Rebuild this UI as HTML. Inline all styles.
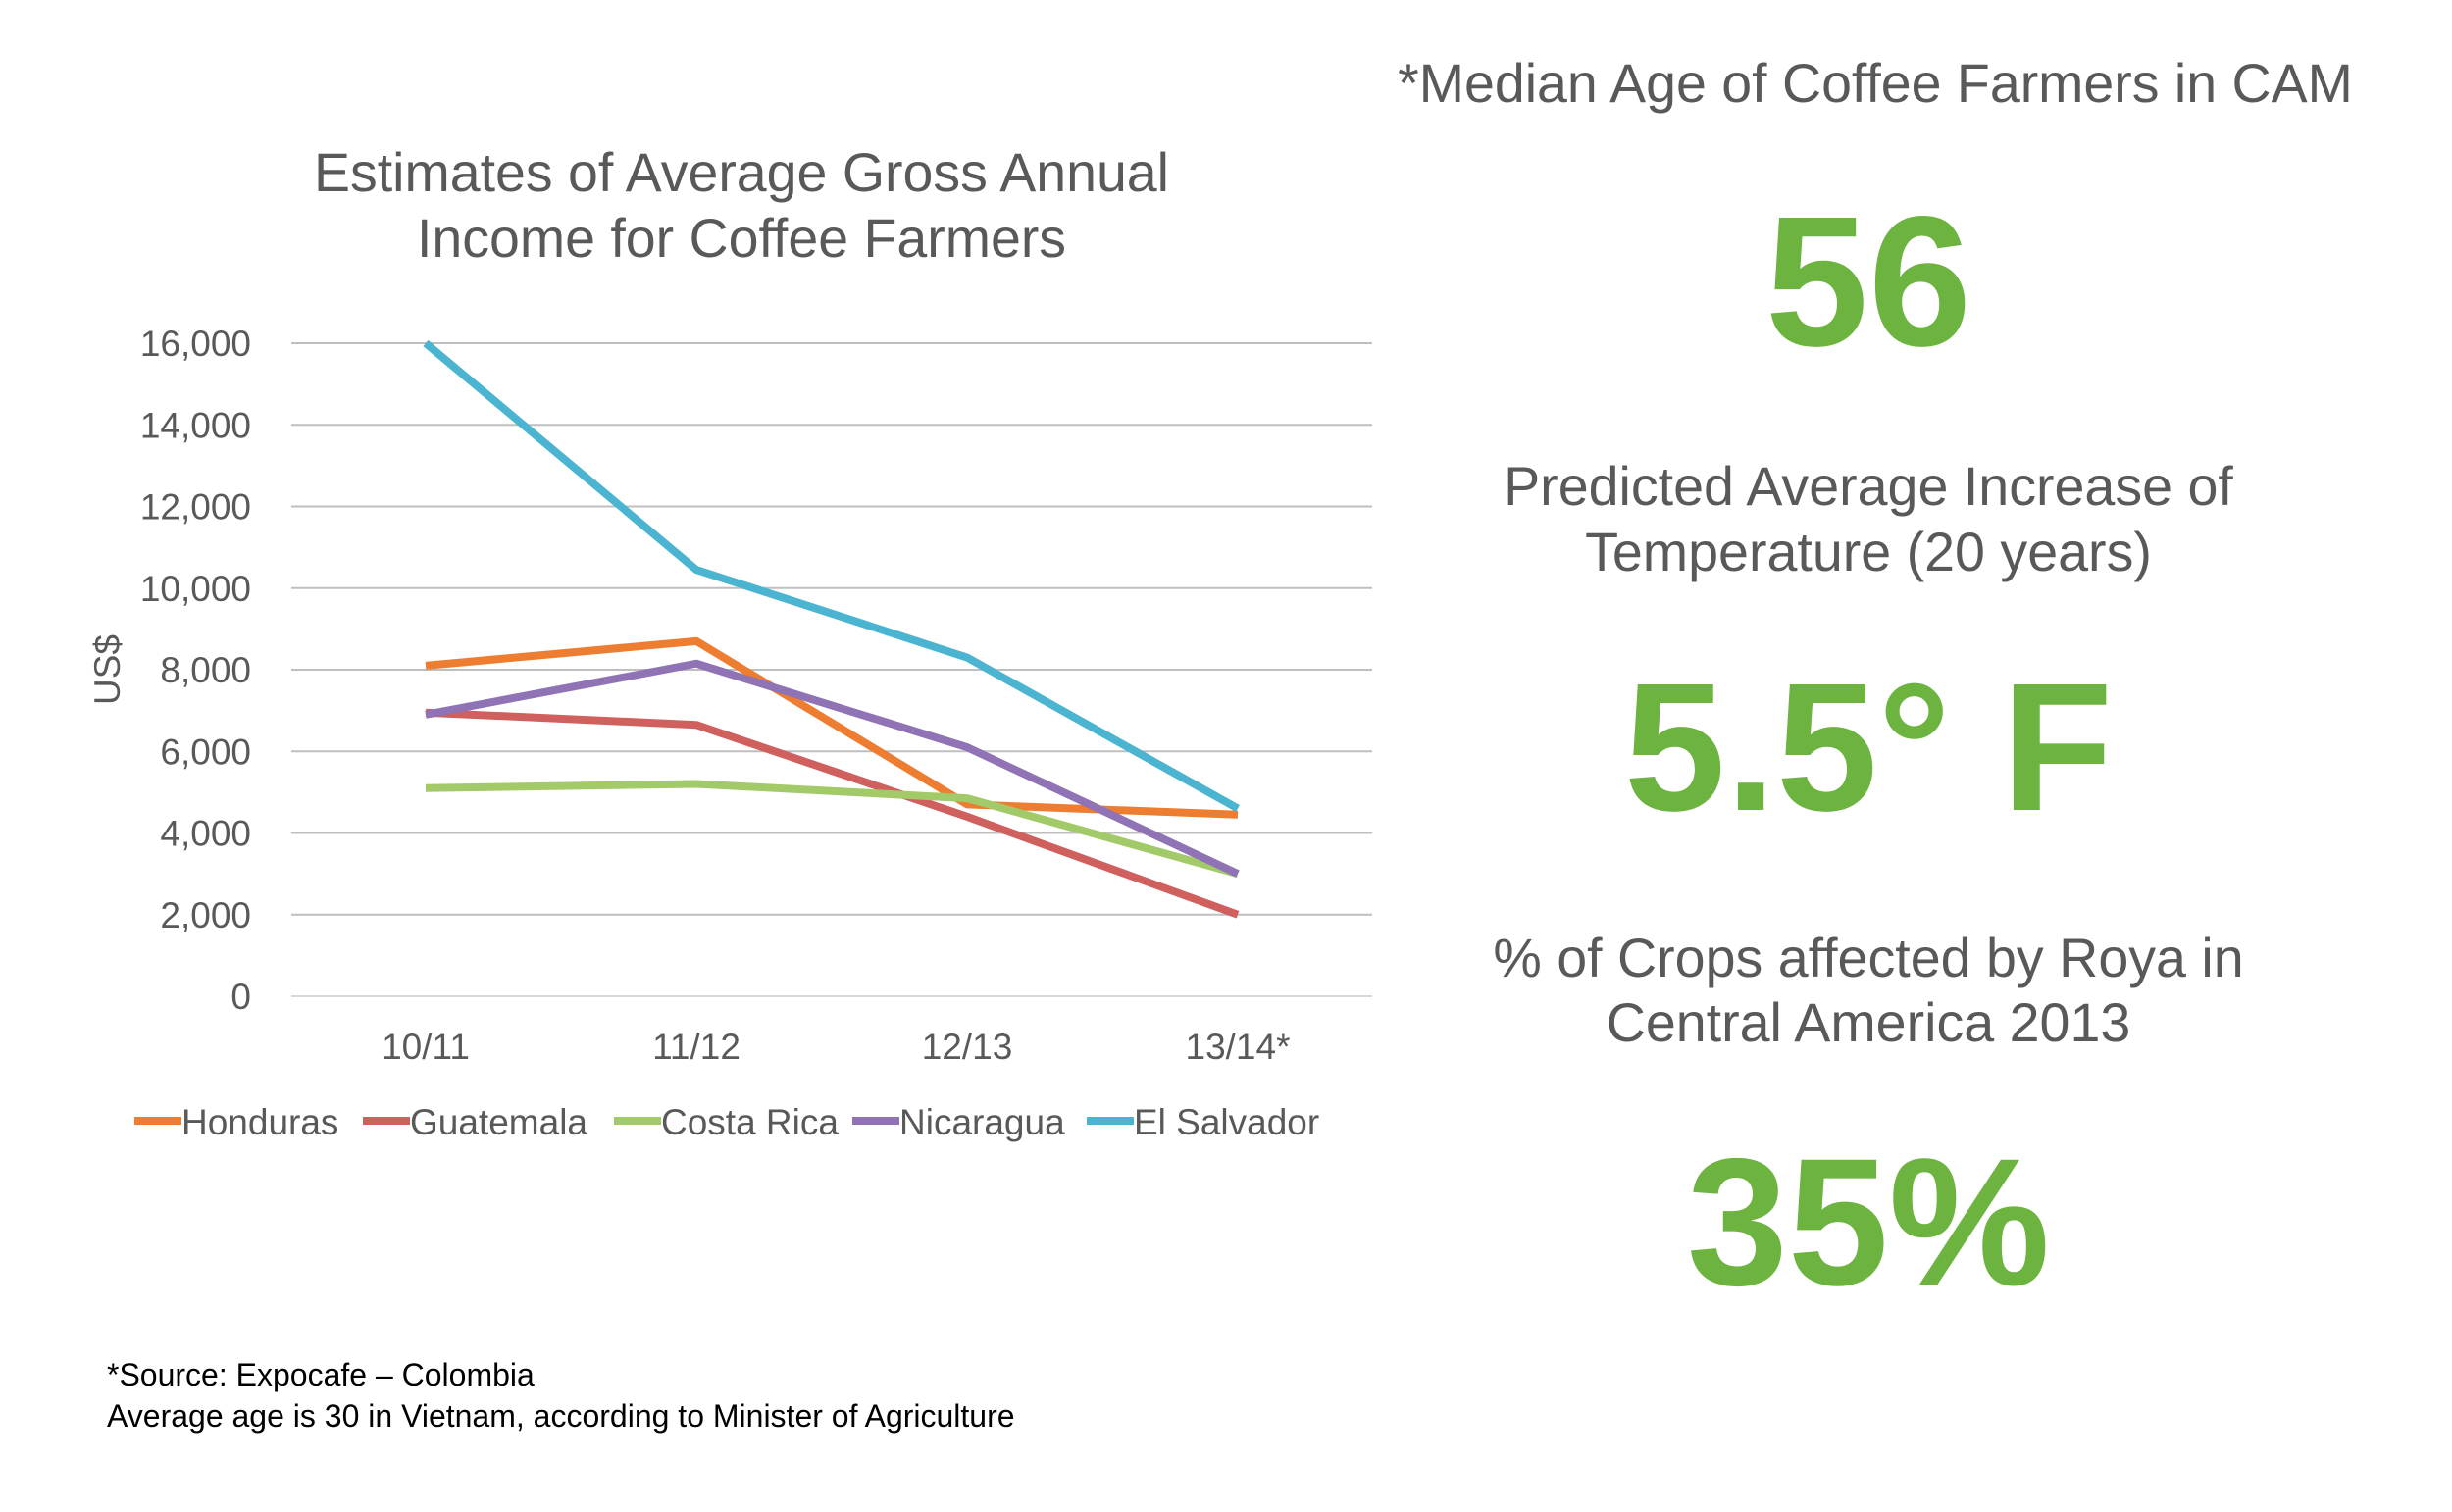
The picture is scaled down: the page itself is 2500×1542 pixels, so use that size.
<!DOCTYPE html>
<html><head><meta charset="utf-8"><style>
body{margin:0;background:#fff;width:2500px;height:1542px;overflow:hidden;font-family:"Liberation Sans",sans-serif;}
svg{position:absolute;left:0;top:0}
</style></head><body>
<svg width="2500" height="1542">
<g id="chart"></g>
<g font-family="Liberation Sans, sans-serif" fill="#595959" text-anchor="middle">
<text x="756" y="195" font-size="55.5">Estimates of Average Gross Annual</text>
<text x="756" y="262" font-size="55.5">Income for Coffee Farmers</text>
<text x="1912" y="104" font-size="55.5">*Median Age of Coffee Farmers in CAM</text>
<text x="1905" y="352" font-size="189" font-weight="bold" fill="#6DB33F">56</text>
<text x="1905" y="515" font-size="55.6">Predicted Average Increase of</text>
<text x="1905" y="582" font-size="55.6">Temperature (20 years)</text>
<text x="1905" y="826" font-size="186" font-weight="bold" fill="#6DB33F">5.5° F</text>
<text x="1905" y="996" font-size="55.6">% of Crops affected by Roya in</text>
<text x="1905" y="1062" font-size="55.6">Central America 2013</text>
<text x="1905" y="1310" font-size="185" font-weight="bold" fill="#6DB33F">35%</text>
</g>
<g font-family="Liberation Sans, sans-serif" fill="#000" font-size="32">
<text x="109" y="1413">*Source:  Expocafe – Colombia</text>
<text x="109" y="1455">Average age is 30 in Vietnam, according to  Minister of Agriculture</text>
</g>
</svg>
<script>
const categories=["10/11","11/12","12/13","13/14*"];
const yTicks=[0,2000,4000,6000,8000,10000,12000,14000,16000];
const seriesNames=["Honduras","Guatemala","Costa Rica","Nicaragua","El Salvador"];
const honduras=[8100,8700,4700,4450];
const guatemala=[6950,6650,4400,2000];
const costaRica=[5100,5200,4850,3000];
const nicaragua=[6900,8150,6100,3000];
const elSalvador=[16000,10450,8300,4600];
const colors=["#ED7D31","#D0605E","#A2CA68","#8F73B5","#4BB4D1"];
const allSeries=[honduras,guatemala,costaRica,nicaragua,elSalvador];
const NS="http://www.w3.org/2000/svg";
const g=document.getElementById('chart');
const L=297,R=1399,T=350,B=1016;
const y=v=>B-(v/16000)*(B-T);
const x=i=>434+i*((1262-434)/3);
function mk(tag,attrs,parent){const e=document.createElementNS(NS,tag);for(const k in attrs)e.setAttribute(k,attrs[k]);(parent||g).appendChild(e);return e;}
yTicks.forEach(v=>{
  const ln=mk('line',{x1:L,x2:R,y1:y(v),y2:y(v),stroke:v===0?'#D9D9D9':'#BFBFBF','stroke-width':2});
  
  
  const t=mk('text',{x:256,y:y(v)+13,'text-anchor':'end','font-size':37,fill:'#595959','font-family':'Liberation Sans, sans-serif'});
  t.textContent=v.toLocaleString('en-US');
  
  
});
categories.forEach((c,i)=>{
  const t=mk('text',{x:x(i),y:1080,'text-anchor':'middle','font-size':37,fill:'#595959','font-family':'Liberation Sans, sans-serif'});
  t.textContent=c;
  
  
});
const yt=mk('text',{x:0,y:0,transform:'translate(122,683) rotate(-90)','text-anchor':'middle','font-size':37,fill:'#595959','font-family':'Liberation Sans, sans-serif'});
yt.textContent='US$';


allSeries.forEach((s,k)=>{
  const p=mk('polyline',{points:s.map((v,i)=>x(i)+','+y(v)).join(' '),fill:'none',stroke:colors[k],'stroke-width':8,'stroke-linejoin':'round'});
  
  
});
const legX=[137,370,626,869,1108];
seriesNames.forEach((n,k)=>{
  const ln=mk('line',{x1:legX[k],x2:legX[k]+48,y1:1143,y2:1143,stroke:colors[k],'stroke-width':8});
  
  
  const t=mk('text',{x:legX[k]+48,y:1157,'font-size':37,fill:'#595959','font-family':'Liberation Sans, sans-serif'});
  t.textContent=n;
  
  
});
</script>
</body></html>
